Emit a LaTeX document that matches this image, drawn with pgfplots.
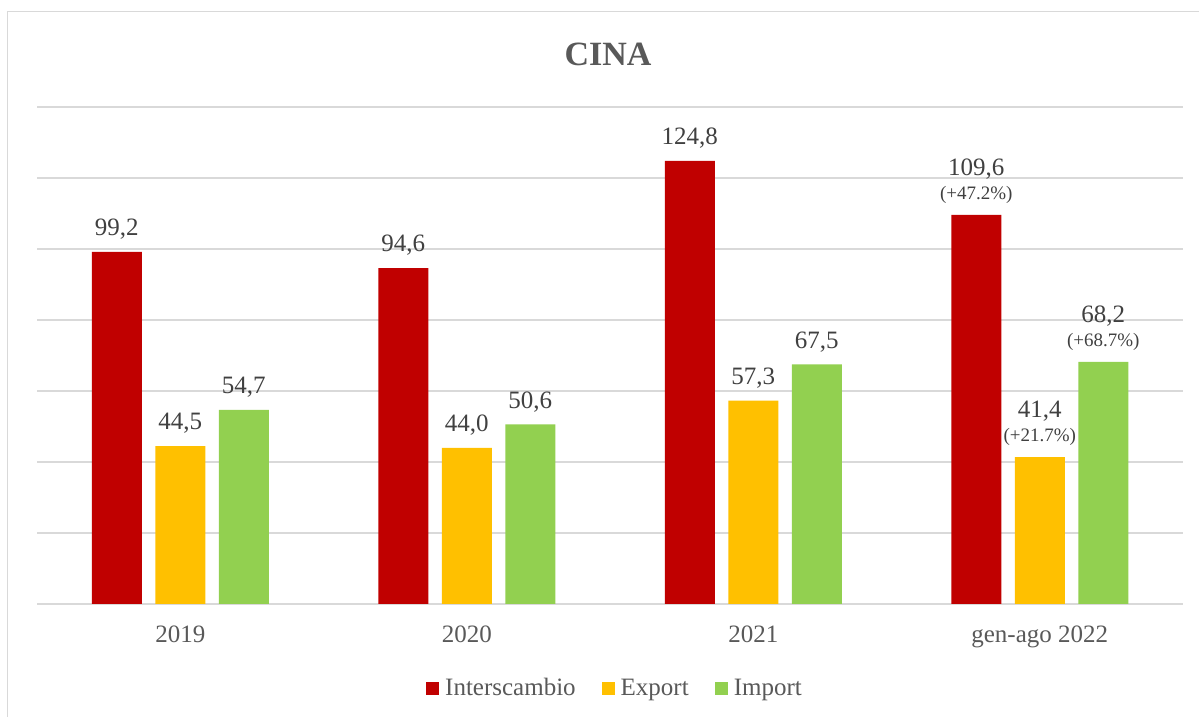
\documentclass[border=0pt]{standalone}
\usepackage{pgfplots}
\pgfplotsset{compat=1.18}
\usepackage{fontspec}
\setmainfont{Liberation Serif}
\definecolor{cred}{HTML}{C00000}
\definecolor{cyel}{HTML}{FFC000}
\definecolor{cgrn}{HTML}{92D050}
\definecolor{gridc}{HTML}{D9D9D9}
\definecolor{txt}{HTML}{595959}
\definecolor{labc}{HTML}{404040}
\newcommand\lab[1]{\raisebox{16pt}{#1}}
\newcommand\labp[2]{\raisebox{15pt}{\begin{tabular}[b]{@{}c@{}}#1\\{\fontsize{19}{19}\selectfont #2}\end{tabular}}}
\begin{document}
\begin{tikzpicture}
\useasboundingbox (0pt,0pt) rectangle (1199pt,717pt);
\draw[draw=gridc, line width=1.3pt] (7.5pt,0pt) -- (7.5pt,705.5pt) -- (1199pt,705.5pt);
\node[font=\fontsize{34}{34}\selectfont\bfseries, text=txt] at (608pt,663pt) {CINA};
\begin{axis}[at={(37pt,113pt)}, anchor=south west, scale only axis,
  width=1146pt, height=497pt,
  xmin=-0.5, xmax=3.5, ymin=0, ymax=140,
  ybar, bar width=50pt,
  xtick={0,1,2,3}, xticklabels={2019,2020,2021,gen-ago 2022},
  ytick={0,20,...,140}, yticklabels={},
  ymajorgrids, grid style={draw=gridc, line width=1.3pt},
  axis line style={draw=none}, major tick length=0pt, tick style={draw=none},
  xticklabel style={font=\fontsize{25}{25}\selectfont, text=txt, anchor=base, yshift=-38pt},
  point meta=explicit symbolic,
  nodes near coords,
  nodes near coords style={inner sep=0pt, font=\fontsize{25}{24}\selectfont, text=labc},
  legend columns=3,
  legend style={draw=none, at={(0.5,0)}, anchor=center, yshift=-84pt, xshift=4pt,
    font=\fontsize{25}{25}\selectfont, text=txt,
    nodes={inner sep=0pt},
    /tikz/every odd column/.append style={column sep=6pt},
    /tikz/every even column/.append style={column sep=26pt}},
  sq/.style={legend image code/.code={\fill[##1] (0pt,-6.5pt) rectangle (13pt,6.5pt);}},
]
\addplot[fill=cred, draw=none, bar shift=-63.5pt, sq] coordinates {
 (0,99.2) [\lab{99,2}] (1,94.6) [\lab{94,6}] (2,124.8) [\lab{124,8}] (3,109.6) [\labp{109,6}{(+47.2\%)}]};
\addplot[fill=cyel, draw=none, bar shift=0pt, sq] coordinates {
 (0,44.5) [\lab{44,5}] (1,44.0) [\lab{44,0}] (2,57.3) [\lab{57,3}] (3,41.4) [\labp{41,4}{(+21.7\%)}]};
\addplot[fill=cgrn, draw=none, bar shift=63.5pt, sq] coordinates {
 (0,54.7) [\lab{54,7}] (1,50.6) [\lab{50,6}] (2,67.5) [\lab{67,5}] (3,68.2) [\labp{68,2}{(+68.7\%)}]};
\legend{Interscambio,Export,Import}
\end{axis}
\end{tikzpicture}
\end{document}
